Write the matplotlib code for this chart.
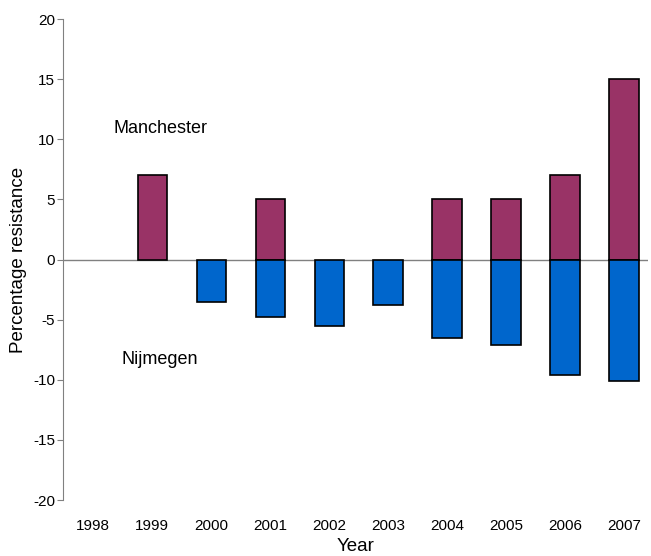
import matplotlib
matplotlib.use("Agg")
import matplotlib.pyplot as plt
import numpy as np

plt.rcParams['font.family'] = ['Liberation Sans', 'DejaVu Sans']
plt.rcParams['axes.unicode_minus'] = False

years = ['1998', '1999', '2000', '2001', '2002', '2003', '2004', '2005', '2006', '2007']
manchester = [0, 7, 0, 5, 0, 0, 5, 5, 7, 15]
nijmegen = [0, 0, -3.5, -4.8, -5.5, -3.75, -6.55, -7.15, -9.6, -10.1]

x = np.arange(len(years))

fig = plt.figure(figsize=(6.51, 5.56), dpi=100)
ax = fig.add_axes([0.0972, 0.1007, 0.8978, 0.8651])

m_idx = [i for i, v in enumerate(manchester) if v != 0]
n_idx = [i for i, v in enumerate(nijmegen) if v != 0]
ax.bar(x[m_idx], [manchester[i] for i in m_idx], width=0.5, color='#993366',
       edgecolor='black', linewidth=1.2, zorder=2)
ax.bar(x[n_idx], [nijmegen[i] for i in n_idx], width=0.5, color='#0066CC',
       edgecolor='black', linewidth=1.2, zorder=2)
ax.axhline(0, color='#808080', linewidth=1, zorder=1)

ax.set_xlim(-0.51, 9.4)
ax.set_ylim(-20, 20)
ax.set_yticks(range(-20, 21, 5))
ax.set_xticks(x)
ax.set_xticklabels(years)

for s in ['top', 'right', 'bottom']:
    ax.spines[s].set_visible(False)
ax.spines['left'].set_color('#808080')
ax.tick_params(axis='x', length=0, pad=14, labelsize=11)
ax.tick_params(axis='y', length=4, color='#808080', labelsize=11, pad=2)

ax.text(1.13, 10.9, 'Manchester', fontsize=13, ha='center', va='center')
ax.text(1.13, -8.3, 'Nijmegen', fontsize=13, ha='center', va='center')

ax.set_xlabel('Year', fontsize=13.5, labelpad=3)
ax.set_ylabel('Percentage resistance', fontsize=13.5, labelpad=4)

fig.savefig('out.png', dpi=100)
